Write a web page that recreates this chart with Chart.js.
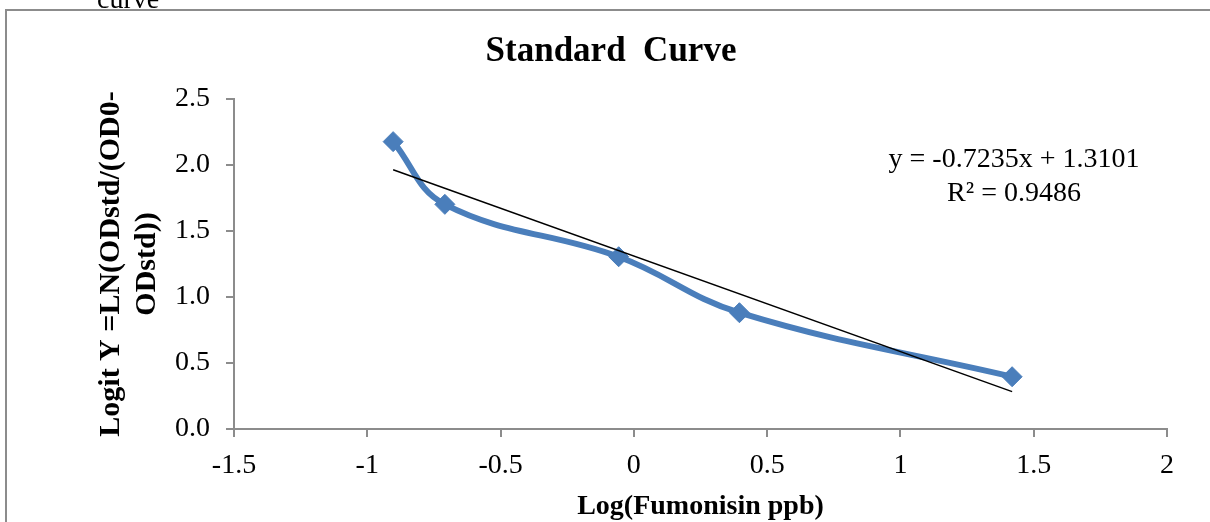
<!DOCTYPE html>
<html>
<head>
<meta charset="utf-8">
<title>Standard Curve</title>
<script src="https://cdn.jsdelivr.net/npm/chart.js@4.4.0/dist/chart.umd.min.js"></script>
<style>
  html, body { margin: 0; padding: 0; background: #fff; }
  #wrap { position: relative; width: 1210px; height: 522px; }
</style>
</head>
<body>
<div id="wrap"><canvas id="stdCurve" width="1210" height="522"></canvas></div>
<script>
    // standards: log concentration vs logit
    const logConc = [-0.903, -0.709, -0.057, 0.396, 1.419];
    const logitY = [2.177, 1.702, 1.305, 0.881, 0.396];

    // linear fit shown on the chart
    const slope = -0.7235;
    const intercept = 1.3101;
    const rSquared = 0.9486;

    const xTicks = [-1.5, -1, -0.5, 0, 0.5, 1, 1.5, 2];
    const yTicks = [0, 0.5, 1.0, 1.5, 2.0, 2.5];

    const SERIF = '"Liberation Serif", "Times New Roman", serif';
    const AXIS = '#8c8c8c';

    const xMin = Math.min(...logConc);
    const xMax = Math.max(...logConc);
    const trend = [xMin, xMax].map(x => ({ x: x, y: slope * x + intercept }));

    // page frame, clipped caption above it, and the fit equation
    const extras = {
      id: 'extras',
      beforeDraw(chart) {
        const c = chart.ctx;
        c.save();
        c.fillStyle = '#fff';
        c.fillRect(0, 0, chart.width, chart.height);
        c.strokeStyle = AXIS;
        c.lineWidth = 2;
        c.beginPath();
        c.moveTo(6, chart.height);
        c.lineTo(6, 10);
        c.lineTo(chart.width, 10);
        c.stroke();
        c.fillStyle = '#000';
        c.font = '28px ' + SERIF;
        c.textBaseline = 'alphabetic';
        c.fillText('curve', 97, 8);
        c.restore();
      },
      afterDatasetsDraw(chart) {
        const c = chart.ctx;
        const a = chart.chartArea;
        const cx = a.right - 153;
        c.save();
        c.fillStyle = '#000';
        c.font = '28px ' + SERIF;
        c.textAlign = 'center';
        c.textBaseline = 'middle';
        const sign = intercept < 0 ? ' - ' : ' + ';
        c.fillText('y = ' + slope.toFixed(4) + 'x' + sign + Math.abs(intercept).toFixed(4), cx, a.top + 61);
        c.fillText('R\u00b2 = ' + rSquared.toFixed(4), cx, a.top + 95);
        c.restore();
      }
    };

    const ctx = document.getElementById('stdCurve').getContext('2d');
    const chart = new Chart(ctx, {
      type: 'line',
      data: {
        datasets: [
          {
            label: 'Linear',
            data: trend,
            borderColor: '#000',
            borderWidth: 1.5,
            pointRadius: 0,
            tension: 0
          },
          {
            label: 'Standard',
            data: logConc.map((x, i) => ({ x: x, y: logitY[i] })),
            borderColor: '#4a7ebb',
            backgroundColor: '#4a7ebb',
            borderWidth: 6,
            tension: 0.4,
            pointStyle: 'rectRot',
            pointRadius: 10,
            pointBorderWidth: 1
          }
        ]
      },
      options: {
        responsive: false,
        devicePixelRatio: 1,
        animation: false,
        layout: { padding: { top: 31, left: 55, right: 43, bottom: 0 } },
        plugins: {
          legend: { display: false },
          tooltip: { enabled: false },
          title: {
            display: true,
            text: 'Standard  Curve',
            color: '#000',
            font: { family: SERIF, size: 35, weight: 'bold' },
            padding: { top: 0, bottom: 26 }
          }
        },
        scales: {
          x: {
            type: 'linear',
            position: 'bottom',
            min: -1.5,
            max: 2,
            afterBuildTicks: s => { s.ticks = xTicks.map(v => ({ value: v })); },
            afterFit: s => { s.height = 93; },
            ticks: {
              color: '#000',
              padding: 12,
              font: { family: SERIF, size: 28 },
              callback: v => String(v)
            },
            grid: { drawOnChartArea: false, drawTicks: true, tickLength: 8, color: AXIS, lineWidth: 2 },
            border: { color: AXIS, width: 2 },
            title: {
              display: true,
              text: 'Log(Fumonisin ppb)',
              color: '#000',
              padding: 0,
              font: { family: SERIF, size: 28, weight: 'bold', lineHeight: 1.1 }
            }
          },
          y: {
            min: 0,
            max: 2.5,
            afterBuildTicks: s => { s.ticks = yTicks.map(v => ({ value: v })); },
            afterFit: s => { s.width = 179; },
            ticks: {
              color: '#000',
              padding: 16,
              font: { family: SERIF, size: 28 },
              callback: v => v.toFixed(1)
            },
            grid: { drawOnChartArea: false, drawTicks: true, tickLength: 8, color: AXIS, lineWidth: 2 },
            border: { color: AXIS, width: 2 },
            title: {
              display: true,
              text: ['Logit Y =LN(ODstd/(OD0-', 'ODstd))'],
              color: '#000',
              padding: { top: 38, bottom: 0 },
              font: { family: SERIF, size: 30, weight: 'bold', lineHeight: 1.2 }
            }
          }
        }
      },
      plugins: [extras]
    });
</script>
</body>
</html>
